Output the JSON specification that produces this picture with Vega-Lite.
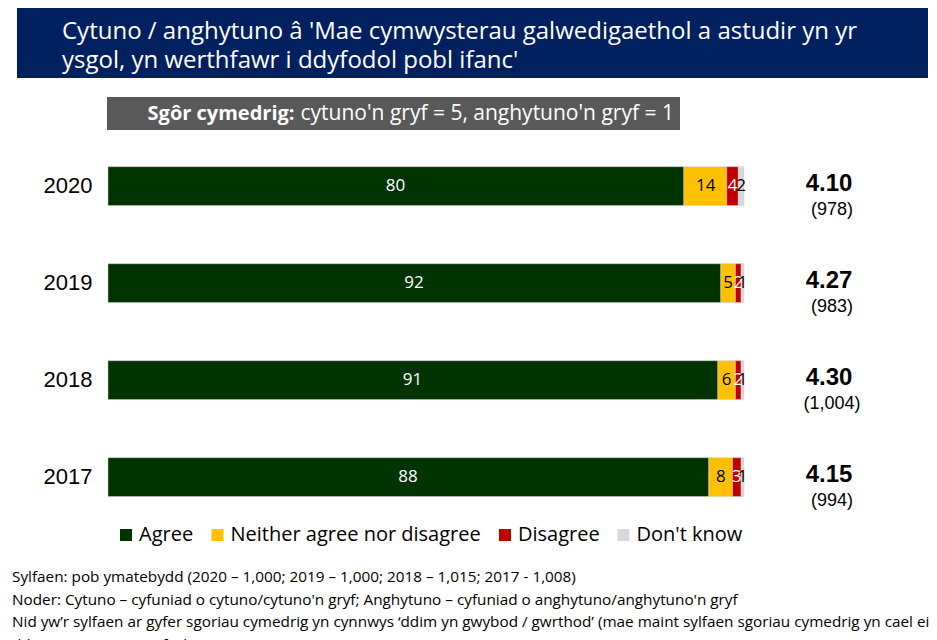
{
  "$schema": "https://vega.github.io/schema/vega-lite/v6.json",
  "padding": {"left": 12, "top": 8, "right": 0, "bottom": 0},
  "background": "white",
  "config": {"view": {"stroke": null}, "font": "Open Sans"},
  "datasets": {
    "shares": [
      {"year": "2020", "response": "Agree", "percent": 80, "order": 1},
      {"year": "2020", "response": "Neither agree nor disagree", "percent": 14, "order": 2},
      {"year": "2020", "response": "Disagree", "percent": 4, "order": 3},
      {"year": "2020", "response": "Don't know", "percent": 2, "order": 4},
      {"year": "2019", "response": "Agree", "percent": 92, "order": 1},
      {"year": "2019", "response": "Neither agree nor disagree", "percent": 5, "order": 2},
      {"year": "2019", "response": "Disagree", "percent": 2, "order": 3},
      {"year": "2019", "response": "Don't know", "percent": 1, "order": 4},
      {"year": "2018", "response": "Agree", "percent": 91, "order": 1},
      {"year": "2018", "response": "Neither agree nor disagree", "percent": 6, "order": 2},
      {"year": "2018", "response": "Disagree", "percent": 2, "order": 3},
      {"year": "2018", "response": "Don't know", "percent": 1, "order": 4},
      {"year": "2017", "response": "Agree", "percent": 88, "order": 1},
      {"year": "2017", "response": "Neither agree nor disagree", "percent": 8, "order": 2},
      {"year": "2017", "response": "Disagree", "percent": 3, "order": 3},
      {"year": "2017", "response": "Don't know", "percent": 1, "order": 4}
    ],
    "means": [
      {"year": "2020", "mean": 4.10, "base": "(978)"},
      {"year": "2019", "mean": 4.27, "base": "(983)"},
      {"year": "2018", "mean": 4.30, "base": "(1,004)"},
      {"year": "2017", "mean": 4.15, "base": "(994)"}
    ],
    "box": [
      {"label": "Sgôr cymedrig:", "note": "cytuno'n gryf = 5, anghytuno'n gryf = 1"}
    ]
  },
  "title": {
    "text": [
      "Sylfaen: pob ymatebydd (2020 – 1,000; 2019 – 1,000; 2018 – 1,015; 2017 - 1,008)",
      "Noder: Cytuno – cyfuniad o cytuno/cytuno'n gryf;  Anghytuno – cyfuniad o anghytuno/anghytuno'n gryf",
      "Nid yw’r sylfaen ar gyfer sgoriau cymedrig yn cynnwys ‘ddim yn gwybod / gwrthod’ (mae maint sylfaen sgoriau cymedrig yn cael ei",
      "ddangos mewn cromfachau)"
    ],
    "orient": "bottom",
    "anchor": "start",
    "frame": "group",
    "offset": 25,
    "font": "Open Sans",
    "fontSize": 15.3,
    "fontWeight": "normal",
    "color": "black",
    "lineHeight": 22.5
  },
  "spacing": 19,
  "vconcat": [
    {
      "spacing": 0,
      "hconcat": [
        {"width": 5, "height": 70, "data": {"values": []}, "mark": {"type": "point", "opacity": 0}},
        {
          "width": 911,
          "height": 70,
          "view": {"fill": "#002060", "stroke": null},
          "data": {"values": []},
          "mark": {"type": "point", "opacity": 0},
          "title": {
            "text": [
              "Cytuno / anghytuno â 'Mae cymwysterau galwedigaethol a astudir yn yr",
              "ysgol, yn werthfawr i ddyfodol pobl ifanc'"
            ],
            "orient": "bottom",
            "anchor": "start",
            "frame": "group",
            "offset": -58,
            "dx": 45,
            "font": "Open Sans",
            "fontSize": 24,
            "fontWeight": "normal",
            "color": "white",
            "lineHeight": 29
          }
        }
      ]
    },
    {
      "spacing": 27,
      "vconcat": [
        {
          "spacing": 0,
          "hconcat": [
            {"width": 95, "height": 33, "data": {"values": []}, "mark": {"type": "point", "opacity": 0}},
            {
              "width": 573,
              "height": 33,
              "view": {"fill": "#595959", "stroke": null},
              "data": {"name": "box"},
              "layer": [
                {
                  "mark": {"type": "text", "align": "right", "dx": -99, "font": "Open Sans", "fontSize": 20, "fontWeight": "bold", "color": "white"},
                  "encoding": {"text": {"field": "label", "type": "nominal"}}
                },
                {
                  "mark": {"type": "text", "align": "left", "dx": -93, "font": "Open Sans", "fontSize": 21, "color": "white"},
                  "encoding": {"text": {"field": "note", "type": "nominal"}}
                }
              ]
            }
          ]
        },
        {
          "spacing": 0,
          "bounds": "flush",
          "resolve": {"legend": {"color": "independent"}},
          "hconcat": [
            {"width": 96, "height": 10, "data": {"values": []}, "mark": {"type": "point", "opacity": 0}},
            {
              "width": 636,
              "height": {"step": 97},
              "data": {"name": "shares"},
              "encoding": {
                "y": {
                  "field": "year",
                  "type": "nominal",
                  "sort": ["2020", "2019", "2018", "2017"],
                  "scale": {"type": "band", "paddingInner": 0.6, "paddingOuter": 0.1},
                  "axis": {"title": null, "domain": false, "ticks": false, "labelFont": "Liberation Sans", "labelFontSize": 22, "labelColor": "black", "labelPadding": 16}
                }
              },
              "layer": [
                {
                  "mark": {"type": "bar", "stroke": "#cfcfcf", "strokeWidth": 0.5},
                  "encoding": {
                    "x": {"field": "percent", "type": "quantitative", "stack": "zero", "scale": {"type": "pow", "exponent": 0.445, "domain": [0, 100], "nice": false}, "axis": null},
                    "color": {
                      "field": "response",
                      "type": "nominal",
                      "scale": {"domain": ["Agree", "Neither agree nor disagree", "Disagree", "Don't know"], "range": ["#003300", "#FFC000", "#C00000", "#D9D9D9"]},
                      "legend": {"orient": "none", "direction": "horizontal", "legendX": 8, "legendY": 368, "title": null, "symbolType": "square", "symbolSize": 144, "symbolStrokeWidth": 0, "labelFont": "Open Sans", "labelFontSize": 20, "labelColor": "black", "labelOffset": 3, "labelLimit": 400, "columnPadding": 13.5, "padding": 0}
                    },
                    "order": {"field": "order", "type": "quantitative"}
                  }
                },
                {
                  "transform": [{"filter": {"field": "response", "equal": "Agree"}}],
                  "mark": {"type": "text", "font": "Open Sans", "fontSize": 17, "color": "white"},
                  "encoding": {
                    "x": {"field": "percent", "type": "quantitative", "stack": "zero", "bandPosition": 0.21},
                    "detail": {"field": "response", "type": "nominal"},
                    "order": {"field": "order", "type": "quantitative"},
                    "text": {"field": "percent", "type": "quantitative"}
                  }
                },
                {
                  "mark": {"type": "text", "font": "Open Sans", "fontSize": 17},
                  "encoding": {
                    "x": {"field": "percent", "type": "quantitative", "stack": "zero", "bandPosition": 0.5},
                    "fill": {
                      "field": "response",
                      "type": "nominal",
                      "scale": {"domain": ["Agree", "Neither agree nor disagree", "Disagree", "Don't know"], "range": ["transparent", "black", "white", "black"]},
                      "legend": null
                    },
                    "order": {"field": "order", "type": "quantitative"},
                    "text": {"field": "percent", "type": "quantitative"}
                  }
                }
              ]
            },
            {
              "width": 170,
              "height": {"step": 97},
              "data": {"name": "means"},
              "encoding": {
                "y": {
                  "field": "year",
                  "type": "nominal",
                  "sort": ["2020", "2019", "2018", "2017"],
                  "scale": {"type": "band", "paddingInner": 0.6, "paddingOuter": 0.1},
                  "axis": null
                }
              },
              "layer": [
                {
                  "mark": {"type": "text", "font": "Liberation Sans", "fontWeight": "bold", "fontSize": 24, "dy": -2, "color": "black"},
                  "encoding": {"text": {"field": "mean", "type": "quantitative", "format": ".2f"}}
                },
                {
                  "mark": {"type": "text", "font": "Liberation Sans", "fontSize": 18, "dy": 24, "dx": 3, "color": "black"},
                  "encoding": {"text": {"field": "base", "type": "nominal"}}
                }
              ]
            }
          ]
        }
      ]
    }
  ]
}
